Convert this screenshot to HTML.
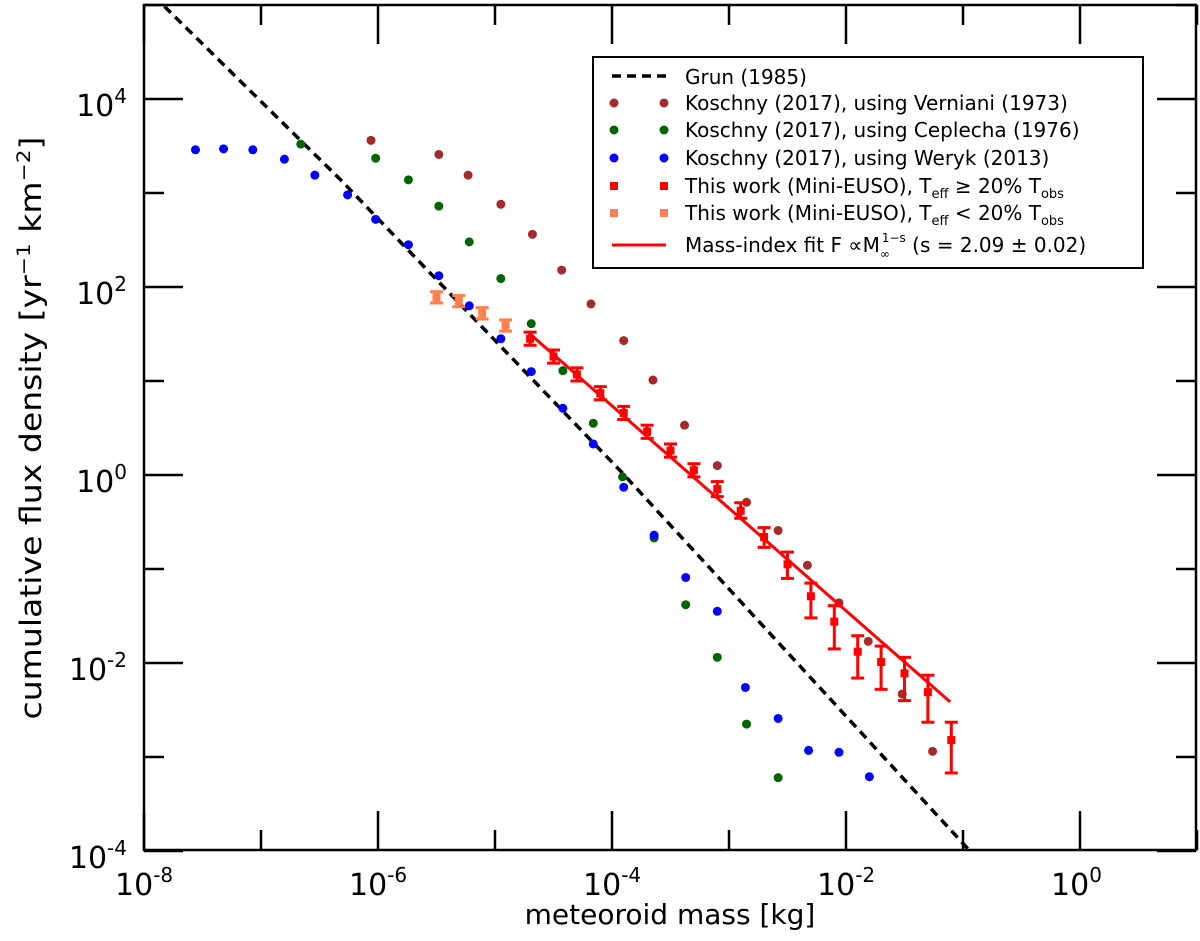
<!DOCTYPE html>
<html><head><meta charset="utf-8"><style>
html,body{margin:0;padding:0;background:#fff;}
svg{display:block;font-family:"DejaVu Sans","Liberation Sans",sans-serif;}
</style></head><body>
<svg id="chart" width="1200" height="941" viewBox="0 0 1200 941" xmlns="http://www.w3.org/2000/svg">
<defs><clipPath id="clip"><rect x="144" y="5" width="1052" height="845"/></clipPath></defs>
<g id="plot" clip-path="url(#clip)"></g>
<rect x="144" y="5" width="1052" height="845" fill="none" stroke="#000" stroke-width="2.5"/>
<g id="ticks"></g>
<text x="670" y="924" font-size="28" text-anchor="middle">meteoroid mass [kg]</text>
<text transform="translate(41,428) rotate(-90)" font-size="29" text-anchor="middle" textLength="583" lengthAdjust="spacingAndGlyphs">cumulative flux density [yr<tspan font-size="19" dy="-11">−1</tspan><tspan dy="11"> km</tspan><tspan font-size="19" dy="-11">−2</tspan><tspan dy="11">]</tspan></text>
<g id="legend">
<rect x="593" y="57" width="550" height="211" fill="#fff" stroke="#000" stroke-width="2"/>
<line x1="612" y1="76" x2="666" y2="76" stroke="#000" stroke-width="3.5" stroke-dasharray="9,6"/>
<text x="685" y="84" font-size="20">Grun (1985)</text>
<circle cx="614" cy="103" r="4.5" fill="#a52a2a"/><circle cx="664" cy="103" r="4.5" fill="#a52a2a"/>
<text x="685" y="110" font-size="20">Koschny (2017), using Verniani (1973)</text>
<circle cx="614" cy="130" r="4.5" fill="#006400"/><circle cx="664" cy="130" r="4.5" fill="#006400"/>
<text x="685" y="137" font-size="20">Koschny (2017), using Ceplecha (1976)</text>
<circle cx="614" cy="158" r="4.5" fill="#0000ff"/><circle cx="664" cy="158" r="4.5" fill="#0000ff"/>
<text x="685" y="165" font-size="20">Koschny (2017), using Weryk (2013)</text>
<rect x="610" y="182" width="8" height="8" fill="#ff0000"/><rect x="660" y="182" width="8" height="8" fill="#ff0000"/>
<text x="685" y="193" font-size="20">This work (Mini-EUSO), T<tspan font-size="13" dy="5">eff</tspan><tspan dy="-5"> ≥ 20% T</tspan><tspan font-size="13" dy="5">obs</tspan></text>
<rect x="610" y="209" width="8" height="8" fill="#ff7f50"/><rect x="660" y="209" width="8" height="8" fill="#ff7f50"/>
<text x="685" y="220" font-size="20">This work (Mini-EUSO), T<tspan font-size="13" dy="5">eff</tspan><tspan dy="-5"> &lt; 20% T</tspan><tspan font-size="13" dy="5">obs</tspan></text>
<line x1="612" y1="245" x2="666" y2="245" stroke="#ff0000" stroke-width="3"/>
<text x="685" y="252" font-size="20">Mass-index fit F ∝M<tspan font-size="12" dy="6">∞</tspan><tspan font-size="12" dy="-16" dx="-8">1−s</tspan><tspan dy="10"> (s = 2.09 ± 0.02)</tspan></text>
</g>
</svg>
<script>
// log10 values
const blueLogM = [-7.56,-7.32,-7.07,-6.80,-6.54,-6.26,-6.02,-5.74,-5.48,-5.22,-4.95,-4.69,-4.42,-4.16,-3.90,-3.64,-3.37,-3.10,-2.86,-2.58,-2.32,-2.06,-1.80];
const blueLogF = [3.46,3.47,3.46,3.36,3.19,2.98,2.72,2.45,2.12,1.80,1.45,1.10,0.71,0.33,-0.13,-0.64,-1.09,-1.45,-2.26,-2.59,-2.93,-2.95,-3.21];
const greenLogM = [-6.66,-6.02,-5.74,-5.48,-5.22,-4.95,-4.69,-4.42,-4.16,-3.91,-3.64,-3.37,-3.10,-2.85,-2.58];
const greenLogF = [3.52,3.37,3.14,2.86,2.48,2.09,1.61,1.11,0.55,-0.02,-0.67,-1.38,-1.94,-2.65,-3.22];
const brownLogM = [-6.06,-5.48,-5.23,-4.95,-4.68,-4.43,-4.18,-3.90,-3.65,-3.38,-3.10,-2.85,-2.58,-2.33,-2.06,-1.81,-1.52,-1.26];
const brownLogF = [3.56,3.41,3.19,2.88,2.56,2.18,1.82,1.43,1.01,0.53,0.10,-0.29,-0.59,-0.96,-1.36,-1.77,-2.33,-2.94];
const orangeLogM = [-5.50,-5.31,-5.11,-4.91];
const orangeLogF = [1.89,1.85,1.72,1.59];
const orangeErr = [0.06,0.06,0.06,0.06];
const redLogM = [-4.7,-4.5,-4.3,-4.1,-3.9,-3.7,-3.5,-3.3,-3.1,-2.9,-2.7,-2.5,-2.3,-2.1,-1.9,-1.7,-1.5,-1.3,-1.1];
const redLogF = [1.45,1.26,1.07,0.87,0.66,0.46,0.26,0.05,-0.15,-0.38,-0.66,-0.95,-1.29,-1.56,-1.88,-1.99,-2.11,-2.31,-2.82];
const redErrHi = [0.07,0.07,0.07,0.07,0.07,0.07,0.07,0.07,0.08,0.085,0.10,0.13,0.14,0.17,0.17,0.17,0.17,0.18,0.19];
const redErrLo = [0.07,0.07,0.07,0.07,0.07,0.07,0.07,0.07,0.08,0.08,0.11,0.15,0.23,0.29,0.28,0.29,0.29,0.32,0.35];
const grunLogM = [-8.1,-7.83,-6.32,-3.91,-0.94,-0.7];
const grunLogF = [5.32,4.99,3.14,0.02,-4.0,-4.32];
const fitRange = [-4.71,-1.11];
const fitSlope = -1.09;
const fitAnchorF = 1.51;
const xTickExp = [-8,-6,-4,-2,0];
const yTickExp = [-4,-2,0,2,4];

const NS = "http://www.w3.org/2000/svg";
const X = l => 144 + (l + 8) * 117;
const Y = l => 475 - l * 94;
const plot = document.getElementById('plot');
const ticks = document.getElementById('ticks');
function mk(tag, attrs, parent) {
  const e = document.createElementNS(NS, tag);
  for (const k in attrs) e.setAttribute(k, attrs[k]);
  parent.appendChild(e);
  return e;
}
let d = grunLogM.map((m, i) => (i ? 'L' : 'M') + X(m).toFixed(1) + ',' + Y(grunLogF[i]).toFixed(1)).join('');
const g = mk('path', {d: d, fill: 'none', stroke: '#000', 'stroke-width': 3.5, 'stroke-dasharray': '9,6'}, plot);


function dots(ms, fs, color, name) {
  ms.forEach((m, i) => {
    const c = mk('circle', {cx: X(m), cy: Y(fs[i]), r: 4.5, fill: color}, plot);
    
    
  });
}
dots(brownLogM, brownLogF, '#a52a2a', 'verniani-point');
dots(greenLogM, greenLogF, '#006400', 'ceplecha-point');
dots(blueLogM, blueLogF, '#0000ff', 'weryk-point');
const fl = mk('line', {x1: X(fitRange[0]), y1: Y(fitAnchorF), x2: X(fitRange[1]), y2: Y(fitAnchorF + fitSlope * (fitRange[1] - fitRange[0])), stroke: '#ff0000', 'stroke-width': 3}, plot);


function errpts(ms, fs, lo, hi, color, name) {
  ms.forEach((m, i) => {
    const x = X(m), y = Y(fs[i]), yt = Y(fs[i] + hi[i]), yb = Y(fs[i] - lo[i]);
    const gg = mk('g', {stroke: color, 'stroke-width': 3}, plot);
    
    
    mk('line', {x1: x, y1: yt, x2: x, y2: yb}, gg);
    mk('line', {x1: x - 6.5, y1: yt, x2: x + 6.5, y2: yt}, gg);
    mk('line', {x1: x - 6.5, y1: yb, x2: x + 6.5, y2: yb}, gg);
    mk('rect', {x: x - 4, y: y - 4, width: 8, height: 8, fill: color, stroke: 'none'}, gg);
  });
}
errpts(orangeLogM, orangeLogF, orangeErr, orangeErr, '#ff7f50', 'minieuso-low-point');
errpts(redLogM, redLogF, redErrLo, redErrHi, '#ff0000', 'minieuso-point');
for (let e = -8; e <= 1; e++) {
  const x = X(e), len = (e % 2 === 0) ? 39 : 20;
  mk('line', {x1: x, y1: 850, x2: x, y2: 850 - len, stroke: '#000', 'stroke-width': 2.5}, ticks);
  mk('line', {x1: x, y1: 5, x2: x, y2: 5 + len, stroke: '#000', 'stroke-width': 2.5}, ticks);
}
for (let e = -4; e <= 5; e++) {
  const y = Y(e), len = (e % 2 === 0) ? 39 : 20;
  mk('line', {x1: 144, y1: y, x2: 144 + len, y2: y, stroke: '#000', 'stroke-width': 2.5}, ticks);
  mk('line', {x1: 1196, y1: y, x2: 1196 - len, y2: y, stroke: '#000', 'stroke-width': 2.5}, ticks);
}
xTickExp.forEach(e => {
  const t = mk('text', {x: X(e) - 29, y: 895, 'font-size': 30}, ticks);
  
  
  t.innerHTML = '10<tspan font-size="20" dy="-13">' + e + '</tspan>';
});
yTickExp.forEach(e => {
  const t = mk('text', {x: 127, y: Y(e) + 17, 'font-size': 30, 'text-anchor': 'end'}, ticks);
  
  
  t.innerHTML = '10<tspan font-size="20" dy="-13">' + e + '</tspan>';
});
</script>
</body></html>
